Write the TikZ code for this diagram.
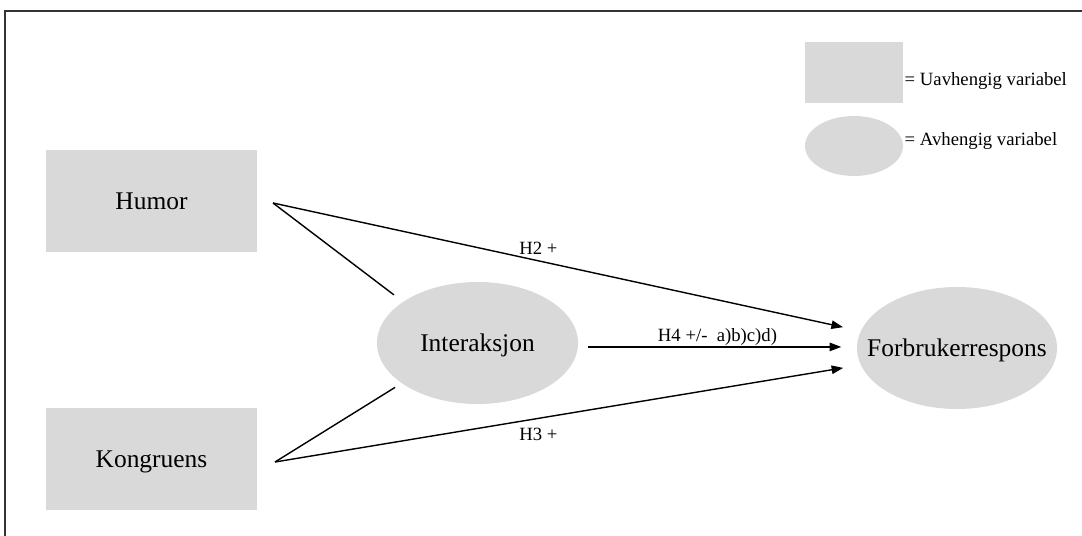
\documentclass[tikz,border=0pt]{standalone}
\usepackage{fontspec}
\setmainfont{Liberation Serif}
\usetikzlibrary{shapes.geometric,arrows.meta}
\definecolor{shapegray}{RGB}{217,217,217}
\newcommand{\bigtxt}{\fontsize{18.1}{21}\selectfont}
\newcommand{\smalltxt}{\fontsize{13.3}{16}\selectfont}

\begin{document}
\begin{tikzpicture}[x=0.025cm, y=-0.025cm, ->, >={Triangle[length=0.29cm, width=0.21cm]}, line width=1pt,
	every node/.style={text depth=0pt},
	box/.style={rectangle, fill=shapegray, minimum width=5.275cm, minimum height=2.55cm, font=\bigtxt},
	oval/.style={ellipse, fill=shapegray, minimum width=5.025cm, minimum height=3.05cm, inner sep=0pt, font=\bigtxt},
	hyp/.style={font=\smalltxt}]

		\useasboundingbox (0,0) rectangle (1082,536);
		\draw [-, black!80] (5,536) -- (5,11) -- (1082,11);

		\node [box] (humor) at (151.5,201) {Humor};
		\node [box] (kongruens) at (151.5,459) {Kongruens};
		\node [oval] (inter) at (477.5,343) {Interaksjon};
		\node [oval, minimum width=5cm] (forbruker) at (957,348) {\makebox[0pt]{Forbrukerrespons}};

		% forklaring
		\node [box, minimum width=2.45cm, minimum height=1.525cm] (uavh) at (854,72.5) {};
		\node [oval, minimum width=2.45cm, minimum height=1.5cm] (avh) at (854,146) {};
		\node [hyp, anchor=west, inner sep=0pt] (uavhtxt) at (904,79) {= Uavhengig variabel};
		\node [hyp, anchor=west, inner sep=0pt] (avhtxt) at (904,139) {= Avhengig variabel};

		\coordinate (humorjoin) at (273,203);
		\coordinate (kongrjoin) at (275,462);

		\draw [-, shorten >=0.275cm] (humorjoin) -- (inter.151);
		\draw [-, shorten >=0.18cm] (kongrjoin) -- (inter.208);

		\draw [shorten >=0.44cm] (humorjoin) -- node[hyp, pos=.452, above=1pt] (h2) {H2 +} (forbruker.170);
		\draw [shorten >=0.43cm] (kongrjoin) -- node[hyp, pos=.45, below=3pt] (h3) {H3 +} (forbruker.190);
		\draw [shorten <=0.225cm, shorten >=0.375cm] ([yshift=-2.8pt]inter.east) -- node[hyp, above] (h4) {H4 +/-\ \ a)b)c)d)} ([yshift=-2.8pt]inter.east -| forbruker.west);

\end{tikzpicture}
\end{document}
